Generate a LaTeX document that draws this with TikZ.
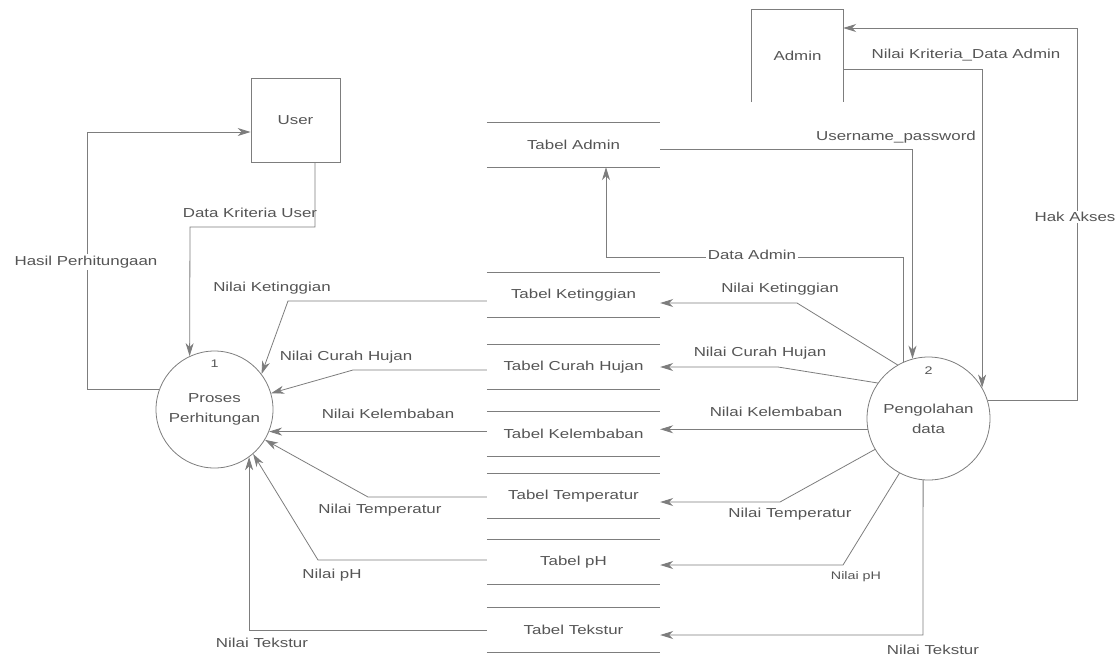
\documentclass[tikz,border=0pt]{standalone}
\usepackage{fontspec}
\setmainfont{Liberation Sans}[FakeStretch=1.3]
\usetikzlibrary{arrows.meta,calc}
\definecolor{ink}{RGB}{125,125,125}
\definecolor{txt}{RGB}{85,85,85}
\begin{document}
\begin{tikzpicture}[x=1pt,y=-1pt,
  every node/.style={font=\fontsize{13}{20}\selectfont, text=txt},
  line/.style={draw=ink, line width=0.8pt},
  flow/.style={line, -{Stealth[length=13pt,width=8pt,inset=4pt]}},
  entity/.style={line, minimum width=89pt, minimum height=84pt, inner sep=0},
  process/.style={circle, line, inner sep=0, align=center},
  store/.style={minimum width=173pt, minimum height=44pt, inner sep=0},
  lbl/.style={fill=white, inner sep=1.5pt},
  small/.style={font=\fontsize{11}{13}\selectfont}
]
\useasboundingbox (0,0) rectangle (1116,665);

% external entities
\node[entity] (user) at (295.5,120) {User};
\node[minimum width=91pt, minimum height=92pt, inner sep=0] (admin) at (797.5,56) {Admin};
\draw[line] (admin.south west) -- (admin.north west) -- (admin.north east) -- (admin.south east);

% processes
\node[process, minimum size=117pt,
      label={[anchor=north,inner sep=0,yshift=-9pt,small]north:1}] (c1) at (214.5,409.5) {Proses\\Perhitungan};
\node[process, minimum size=123pt,
      label={[anchor=north,inner sep=0,yshift=-10pt,small]north:2}] (c2) at (928.5,418.5) {Pengolahan\\data};

% data stores
\node[store] (ta) at (573.5,145) {Tabel Admin};
\node[store] (tk) at (573.5,295) {Tabel Ketinggian};
\node[store] (tc) at (573.5,367) {Tabel Curah Hujan};
\node[store] (tl) at (573.5,434) {Tabel Kelembaban};
\node[store] (tt) at (573.5,496) {Tabel Temperatur};
\node[store] (tp) at (573.5,562) {Tabel pH};
\node[store] (tx) at (573.5,630) {Tabel Tekstur};
\foreach \n in {ta,tk,tc,tl,tt,tp,tx}
  \draw[line] (\n.north west) -- (\n.north east) (\n.south west) -- (\n.south east);

% user <-> process 1
\coordinate (hp) at (87,132);
\draw[flow] (c1.160) -| (hp) -- (hp -| user.west);
\node[lbl] (lhp) at (86,262) {Hasil Perhitungaan};
\coordinate (dk) at (190,227);
\draw[flow] ([xshift=19.5pt]user.south) |- (dk) -- (c1.115);
\node (ldk) at (250,213) {Data Kriteria User};

% stores -> process 1
\coordinate (k1) at (288,301);
\draw[flow] ([yshift=-6pt]tk.west) -- (k1) -- (c1.37);
\node (lk1) at (272,288) {Nilai Ketinggian};
\coordinate (h1) at (353,370);
\draw[flow] ([yshift=-3pt]tc.west) -- (h1) -- (c1.16);
\node (lh1) at (346,357) {Nilai Curah Hujan};
\draw[flow] (tl.west |- c1.-22) -- (c1.-22);
\node (ll1) at (388,414) {Nilai Kelembaban};
\coordinate (t1) at (368,497);
\draw[flow] ([yshift=-1pt]tt.west) -- (t1) -- (c1.-31);
\node (lt1) at (380,510) {Nilai Temperatur};
\coordinate (p1) at (318,560);
\draw[flow] ([yshift=2pt]tp.west) -- (p1) -- (c1.-49);
\node (lp1) at (332,575) {Nilai pH};
\draw[flow] (tx.west) -| (c1.-54);
\node (lx1) at (262,643) {Nilai Tekstur};

% process 2 -> stores
\coordinate (k2) at (797,303);
\draw[flow] (c2.120) -- (k2) -- (k2 -| tk.east);
\node (lk2) at (780,289) {Nilai Ketinggian};
\coordinate (h2) at (778,367);
\draw[flow] (c2.145) -- (h2) -- (h2 -| tc.east);
\node (lh2) at (760,353) {Nilai Curah Hujan};
\draw[flow] (c2.-170) -- (c2.-170 -| tl.east);
\node (ll2) at (776,412) {Nilai Kelembaban};
\coordinate (t2) at (780,502);
\draw[flow] (c2.-150) -- (t2) -- (t2 -| tt.east);
\node (lt2) at (790,514) {Nilai Temperatur};
\coordinate (p2) at (843,565);
\draw[flow] (c2.-118) -- (p2) -- (p2 -| tp.east);
\node[small] (lp2) at (856,577) {Nilai pH};
\coordinate (x2) at (923,635);
\draw[flow] (c2.-95) -- (x2) -- (x2 -| tx.east);
\node (lx2) at (933,650) {Nilai Tekstur};

% admin flows
\draw[flow] ([yshift=-4pt]ta.east) -| (c2.105);
\node (lup) at (896,137) {Username\_password};
\coordinate (da) at (606,257);
\draw[flow] (c2.114) |- (da) -- (da |- ta.south);
\node[lbl] (lda) at (752,255) {Data Admin};
\draw[flow] ([yshift=-13pt]admin.east) -| (c2.30);
\node (lnk) at (966,55) {Nilai Kriteria\_Data Admin};
\coordinate (ha) at (1077,28);
\draw[flow] (c2.17) -| (ha) -- (ha -| admin.east);
\node[lbl] (lha) at (1075,217) {Hak Akses};
\end{tikzpicture}
\end{document}
